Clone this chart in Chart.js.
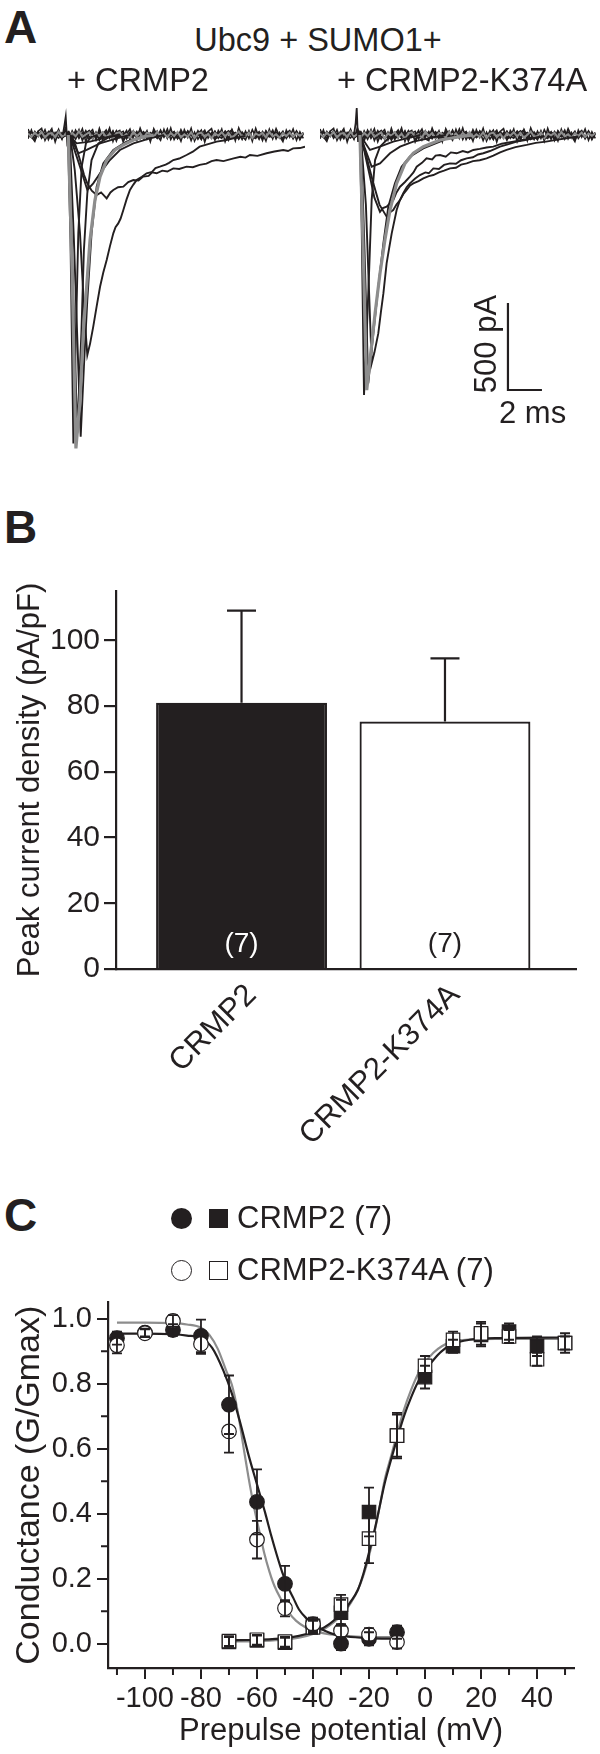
<!DOCTYPE html>
<html>
<head>
<meta charset="utf-8">
<script src="https://cdn.jsdelivr.net/npm/chart.js"></script>
<style>
  html, body { margin: 0; padding: 0; background: #fff; }
  #page { position: relative; width: 600px; height: 1754px; overflow: hidden;
          font-family: "Liberation Sans", Arial, sans-serif; color: #231f20; }
  canvas { position: absolute; }
  .txt { position: absolute; white-space: nowrap; line-height: 1; }
  .mk { position: absolute; box-sizing: border-box; }
</style>
</head>
<body>
<div id="page">
  <canvas id="traceLeft" width="277" height="365" style="left:28px;top:92px"></canvas>
  <canvas id="traceRight" width="277" height="365" style="left:320px;top:92px"></canvas>
  <canvas id="barChart" width="600" height="620" style="left:0;top:560px"></canvas>
  <canvas id="gvChart" width="600" height="474" style="left:0;top:1280px"></canvas>
</div>
<script>
const INK = "#231f20";
const GRAY = "#8d8d8d";
const FONT = '"Liberation Sans", Arial, sans-serif';
Chart.defaults.font.family = FONT;
Chart.defaults.color = INK;

// ---------- Panel A: current traces (time in ms, current in pA) ----------
const NOISE_DT = 0.2;
const N1 = [6,-14,20,-9,24,-17,5,-22,15,2,-19,27,-7,11,-24,17,-3,-15,22,9,-18,13,-26,19,1,-11,25,-13,7,-21,16,-6,20,-15,10,-23,14,3,-18,22,-10,12,-5,18,-20,8,-14,23,-2,-17,13,-25,16,6,-12,21,-8,-19,11,24,-13,4,-22,17,-7,15,-18,9,-24,20,-4,-11,19,-16,7,-21,14,2,-15,23,-9,5];
const N2 = [-11,16,-5,21,-19,9,-15,23,-7,-17,13,-3,19,-21,7,15,-13,25,-9,-19,11,-23,17,5,-15,21,-11,9,-25,13,-7,23,-17,3,19,-13,-21,15,7,-9,17,-5,12,-20,6,18,-14,-4,22,-16,10,-24,14,0,-12,20,-18,8,16,-22,4,-10,24,-14,-6,18,-20,12,2,-16,21,-8,-13,17,-3,22,-19,9,-11,15,-23,6];
const N3 = [15,-7,-17,11,3,-21,19,-13,9,23,-15,-5,17,-11,21,-19,13,1,-23,15,-9,19,-7,-17,25,-3,-15,11,21,-19,5,-11,15,-21,9,17,-13,-7,23,-15,11,-17,8,20,-12,-22,16,-6,10,-18,24,-8,-14,18,2,-20,12,-4,22,-16,6,14,-24,10,-2,18,-12,-20,16,4,-14,21,-10,7,-18,13,-5,20,-22,9,-8,14];
const N4 = [-22,28,-30,12,-8,30,-26,18,-14,32,-20,6,-28,24,-12,30,-32,10,26,-24,16,-30,4,28,-18,22,-34,14,-6,26,-28,20,-10,32,-22,8,-30,24,-16,28,-12,34,-26,10,-20,30,-8,22,-32,16,-24,6,28,-18,12,-30,26,-4,20,-28,32,-14,8,-26,22,-20,30,-10,18,-32,24,-6,28,-22,14,-30,10,26,-16,20,-26,12];
const N5 = [34,-10,-36,22,38,-30,8,36,-40,18,-24,40,-14,-34,28,-6,36,-38,12,30,-28,38,-20,-8,40,-36,16,26,-40,4,34,-22,-32,38,-12,24,-38,36,-4,-30,32,-18,40,-26,10,-36,30,-14,38,-34,6,28,-40,20,36,-24,-10,34,-38,14,30,-32,40,-8,-28,24,-36,38,-16,10,-34,32,-22,36,-6,-38,28,-12,34,-30,18,-20];
const NG = [9,-11,13,-5,17,-15,7,11,-13,19,-9,5,-17,13,-7,21,-11,3,15,-19,9,-5,17,-13,7,-21,11,15,-9,5,-15,19,-7,11,-17,13,3,-11,17,-7,9,-13,12,-6,18,-14,4,-10,16,-18,8,14,-12,6,-20,10,-4,16,-8,12,-16,2,20,-10,-6,14,-18,8,-2,12,-14,18,-8,4,-16,10,-6,14,-12,8,-4,10];

const ART_L = [[2.05,0],[2.15,60],[2.22,105],[2.3,-30],[2.38,10],[2.45,0]];
const ART_R = [[2.0,0],[2.1,70],[2.16,155],[2.24,-40],[2.32,15],[2.4,0]];

// + CRMP2
const L1 = [[2.35,0],[2.5,-600],[2.67,-1772],[2.82,-1140],[2.96,-565],[3.16,-182],[3.41,-48],[3.74,-10],[4.1,0]];
const L2 = [[2.4,0],[2.6,-700],[2.9,-1714],[3.14,-1140],[3.29,-661],[3.49,-335],[3.74,-144],[4.14,-48],[4.82,-10],[5.3,0]];
const L3 = [[2.45,0],[2.7,-600],[3.1,-1734],[3.29,-1331],[3.49,-948],[3.74,-565],[4.04,-297],[4.43,-163],[5.02,-86],[5.8,-38],[6.59,-13],[7.2,0]];
const L4 = [[2.47,0],[2.75,-200],[3.06,-565],[3.3,-1000],[3.49,-1264],[3.65,-1200],[3.84,-1101],[4.04,-985],[4.24,-872],[4.43,-790],[4.63,-718],[4.82,-640],[5.02,-565],[5.15,-530],[5.31,-508],[5.45,-480],[5.61,-431],[5.8,-370],[6.0,-316],[6.2,-285],[6.39,-259],[6.7,-240],[6.98,-220],[7.3,-212],[7.5,-190],[7.76,-182],[8.1,-170],[8.3,-160],[8.55,-144],[8.9,-135],[9.33,-115],[9.7,-96],[10.1,-67],[10.6,-52],[11.1,-38],[11.6,-30],[12.1,-19],[12.8,-5]];
const L5 = [[2.5,0],[2.8,-60],[3.06,-144],[3.3,-230],[3.49,-278],[3.75,-320],[4.04,-345],[4.3,-330],[4.63,-364],[4.85,-330],[5.02,-316],[5.3,-300],[5.61,-297],[5.9,-270],[6.2,-259],[6.5,-262],[6.78,-239],[7.1,-235],[7.3,-215],[7.57,-220],[7.9,-205],[8.2,-210],[8.55,-192],[8.9,-195],[9.33,-182],[9.7,-185],[10.1,-172],[10.5,-165],[10.8,-150],[11.1,-144],[11.5,-150],[12.1,-134],[12.5,-125],[12.8,-130],[13.06,-115],[13.5,-120],[14.04,-105],[14.5,-95],[15.02,-86],[15.3,-92],[15.6,-77],[16.0,-75],[16.3,-67]];
const L6 = [[2.45,0],[2.75,-90],[3.06,-182],[3.49,-316],[3.84,-278],[4.24,-220],[4.82,-144],[5.41,-86],[6.2,-48],[7.18,-19],[8.0,0]];
const L7 = [[2.45,0],[2.96,-105],[3.45,-86],[4.24,-48],[5.22,-19],[6.0,0]];
const L8 = [[2.4,0],[2.86,-48],[3.65,-38],[4.63,-13],[5.4,0]];
const L_GRAY = [[2.37,0],[2.6,-800],[2.82,-1801],[3.06,-1523],[3.25,-1140],[3.45,-872],[3.65,-603],[3.94,-374],[4.24,-239],[4.63,-144],[5.12,-86],[5.61,-57],[6.2,-29],[6.78,-10],[7.4,0]];

// + CRMP2-K374A
const R1 = [[2.35,0],[2.45,-500],[2.59,-1494],[2.75,-1140],[2.9,-757],[3.04,-374],[3.24,-144],[3.53,-67],[3.92,-29],[4.4,0]];
const R3 = [[2.4,0],[2.6,-600],[2.84,-1427],[3.14,-1140],[3.43,-872],[3.73,-623],[4.02,-412],[4.41,-278],[4.8,-182],[5.29,-124],[6.08,-77],[7.06,-38],[7.9,0]];
const R4 = [[2.4,0],[2.7,-400],[3.04,-1312],[3.2,-1250],[3.43,-1140],[3.58,-1020],[3.73,-910],[3.92,-738],[4.07,-650],[4.22,-565],[4.51,-431],[4.7,-375],[4.9,-335],[5.1,-300],[5.29,-278],[5.6,-250],[5.88,-230],[6.2,-215],[6.4,-220],[6.67,-192],[7.0,-195],[7.3,-172],[7.65,-163],[8.0,-165],[8.3,-145],[8.63,-134],[9.0,-128],[9.3,-112],[9.61,-105],[10.0,-92],[10.3,-80],[10.59,-67],[11.0,-55],[11.57,-38],[12.0,-30],[12.55,-19],[13.2,-6]];
const R5 = [[2.35,0],[2.6,-90],[2.94,-239],[3.2,-360],[3.53,-441],[3.7,-420],[3.92,-412],[4.1,-395],[4.31,-374],[4.5,-330],[4.71,-297],[5.0,-270],[5.29,-239],[5.5,-215],[5.69,-182],[6.0,-160],[6.27,-134],[6.6,-140],[6.8,-118],[7.06,-115],[7.4,-125],[7.7,-100],[8.04,-105],[8.4,-92],[8.7,-100],[9.02,-86],[9.4,-80],[9.8,-72],[10.2,-67],[10.7,-50],[11.37,-38],[11.9,-28],[12.55,-19],[13.2,-8]];
const R6 = [[2.4,0],[2.8,-150],[3.14,-278],[3.5,-400],[3.92,-469],[4.1,-445],[4.31,-431],[4.5,-400],[4.71,-374],[4.9,-340],[5.1,-316],[5.3,-290],[5.49,-278],[5.8,-265],[6.08,-249],[6.4,-236],[6.67,-230],[7.0,-215],[7.3,-205],[7.65,-192],[8.0,-188],[8.3,-170],[8.63,-163],[9.0,-150],[9.4,-145],[9.8,-134],[10.2,-118],[10.6,-100],[10.98,-86],[11.5,-70],[12.16,-57],[12.7,-45],[13.3,-38],[13.9,-28],[14.5,-19],[15.2,-8]];
const R7 = [[2.35,0],[3.04,-182],[3.53,-163],[4.12,-105],[4.71,-67],[5.49,-38],[6.67,-13],[7.4,0]];
const R8 = [[2.35,0],[2.94,-86],[3.53,-67],[4.31,-38],[5.1,-19],[5.9,0]];
const R_GRAY = [[2.35,0],[2.55,-700],[2.75,-1466],[2.94,-1293],[3.24,-1025],[3.53,-795],[3.82,-603],[4.12,-431],[4.51,-278],[5.0,-163],[5.49,-105],[6.08,-67],[7.06,-29],[8.24,-10],[9.0,0]];

// axis ranges and scale bar (500 pA, 2 ms)
const A_T_MAX = 16.3;
const A_Y_MIN = -1850, A_Y_MAX = 247;
const BAR_T0 = 11.06, BAR_I0 = -1465, BAR_DT = 2, BAR_DI = 500;

// ---------- Panel B: peak current density ----------
const GROUPS = ["CRMP2", "CRMP2-K374A"];
const DENSITY_MEAN = [81, 75.3];
const DENSITY_SEM = [28, 19.2];
const N_CELLS = ["(7)", "(7)"];
const BAR_POS = [1, 2];
const B_Y_TICKS = [0, 20, 40, 60, 80, 100];
const LABEL_SHIFT = 0.05;   // nudges rotated category labels right of bar centre

// ---------- Panel C: activation / inactivation ----------
const INACT_V = [-110, -100, -90, -80, -70, -60, -50, -40, -30, -20, -10];
const INACT_CRMP2 = [0.94, 0.957, 0.965, 0.947, 0.735, 0.436, 0.184, 0.055, 0.0, 0.015, 0.035];
const INACT_CRMP2_SEM = [0.02, 0.012, 0.018, 0.05, 0.09, 0.1, 0.055, 0.02, 0.02, 0.02, 0.02];
const INACT_K374A = [0.918, 0.955, 0.993, 0.922, 0.653, 0.32, 0.109, 0.06, 0.04, 0.028, 0.005];
const INACT_K374A_SEM = [0.025, 0.012, 0.018, 0.03, 0.065, 0.058, 0.025, 0.02, 0.02, 0.02, 0.02];
const ACT_V = [-70, -60, -50, -40, -30, -20, -10, 0, 10, 20, 30, 40, 50];
const ACT_CRMP2 = [0.005, 0.01, 0.003, 0.055, 0.095, 0.405, 0.64, 0.82, 0.915, 0.95, 0.96, 0.915, 0.925];
const ACT_CRMP2_SEM = [0.015, 0.015, 0.015, 0.02, 0.04, 0.075, 0.065, 0.035, 0.02, 0.035, 0.025, 0.03, 0.02];
const ACT_K374A = [0.008, 0.012, 0.006, 0.05, 0.12, 0.323, 0.64, 0.855, 0.935, 0.955, 0.945, 0.875, 0.925];
const ACT_K374A_SEM = [0.015, 0.015, 0.015, 0.02, 0.03, 0.075, 0.07, 0.03, 0.025, 0.035, 0.02, 0.02, 0.03];

const FIT_INACT_CRMP2 = [[-110,0.954],[-100,0.954],[-90,0.952],[-85,0.948],[-80,0.94],[-76,0.91],[-72,0.84],[-69,0.77],[-66,0.68],[-63,0.58],[-60,0.49],[-57,0.4],[-55,0.335],[-53,0.275],[-51,0.22],[-49,0.175],[-47,0.14],[-45,0.105],[-42,0.075],[-40,0.06],[-37,0.045],[-33,0.03],[-28,0.022],[-20,0.017],[-10,0.015]];
const FIT_INACT_K374A = [[-110,0.988],[-100,0.988],[-90,0.986],[-85,0.982],[-80,0.972],[-77,0.95],[-74,0.907],[-71,0.84],[-69,0.797],[-67,0.72],[-64.5,0.588],[-63,0.51],[-61,0.418],[-59,0.34],[-57.4,0.278],[-55.5,0.22],[-53.8,0.178],[-51,0.13],[-49,0.1],[-46,0.07],[-43,0.052],[-40,0.04],[-35,0.03],[-28,0.024],[-20,0.02],[-10,0.02]];
const FIT_ACT_CRMP2 = [[-70,0.01],[-60,0.012],[-50,0.017],[-45,0.024],[-40,0.036],[-36,0.05],[-32,0.075],[-29,0.1],[-26.5,0.13],[-24,0.165],[-22,0.215],[-20,0.28],[-18,0.35],[-16,0.43],[-14.5,0.49],[-12,0.57],[-10,0.63],[-7.5,0.7],[-5,0.757],[-2.5,0.805],[0,0.84],[3,0.873],[6,0.9],[9,0.918],[12,0.928],[16,0.935],[25,0.94],[50,0.942]];
const FIT_ACT_K374A = [[-70,0.006],[-60,0.008],[-50,0.012],[-45,0.018],[-40,0.03],[-36,0.045],[-32,0.07],[-29,0.095],[-26.5,0.125],[-24,0.165],[-22,0.21],[-20,0.27],[-18,0.345],[-16,0.43],[-14.5,0.5],[-12,0.58],[-10,0.645],[-7.5,0.72],[-5,0.78],[-2.5,0.83],[0,0.865],[3,0.895],[6,0.915],[9,0.927],[12,0.933],[16,0.936],[25,0.938],[50,0.938]];

const C_X_TICKS = [-100, -80, -60, -40, -20, 0, 20, 40];
const C_X_MINOR = [-110, -90, -70, -50, -30, -10, 10, 30, 50];
const C_Y_TICKS = [0, 0.2, 0.4, 0.6, 0.8, 1.0];
const C_Y_MINOR = [0.1, 0.3, 0.5, 0.7, 0.9];

// ---------- helpers ----------
const pairs = arr => arr.map(p => ({ x: p[0], y: p[1] }));
const noise = arr => arr.map((v, i) => ({ x: i * NOISE_DT, y: v }));

function traceSet(data, color, width, order) {
  return { data, borderColor: color, borderWidth: width, pointRadius: 0, tension: 0, fill: false, order };
}

function drawTraces(id, traces, gray, artifact, extra) {
  const ds = [];
  [N1, N2, N3, N4, N5].forEach(n => ds.push(traceSet(noise(n), INK, 1.6, 3)));
  ds.push(traceSet(noise(NG), GRAY, 2, 2));
  traces.forEach(t => ds.push(traceSet(pairs(t), INK, 1.9, 1)));
  ds.push(traceSet(pairs(artifact), INK, 1.8, 1));
  ds.push(traceSet(pairs(gray), GRAY, 3.2, 0));
  new Chart(document.getElementById(id), {
    type: "line",
    data: { datasets: ds },
    options: {
      responsive: false, animation: false, devicePixelRatio: 1,
      layout: { padding: 0 },
      plugins: { legend: { display: false }, tooltip: { enabled: false } },
      scales: {
        x: { type: "linear", display: false, min: 0, max: A_T_MAX },
        y: { display: false, min: A_Y_MIN, max: A_Y_MAX }
      }
    },
    plugins: extra || []
  });
}

const scaleBar = {
  id: "scaleBar",
  afterDraw(chart) {
    const { ctx, scales: { x, y } } = chart;
    const x0 = x.getPixelForValue(BAR_T0), x1 = x.getPixelForValue(BAR_T0 + BAR_DT);
    const y0 = y.getPixelForValue(BAR_I0), y1 = y.getPixelForValue(BAR_I0 + BAR_DI);
    ctx.save();
    ctx.strokeStyle = INK;
    ctx.lineWidth = 2.2;
    ctx.beginPath();
    ctx.moveTo(x0, y1); ctx.lineTo(x0, y0); ctx.lineTo(x1, y0);
    ctx.stroke();
    ctx.restore();
  }
};

drawTraces("traceLeft", [L1, L2, L3, L4, L5, L6, L7, L8], L_GRAY, ART_L);
drawTraces("traceRight", [R1, R3, R4, R5, R6, R7, R8], R_GRAY, ART_R, [scaleBar]);

// ---------- Panel B ----------
const barExtras = {
  id: "barExtras",
  afterDatasetsDraw(chart) {
    const { ctx, scales: { x, y } } = chart;
    ctx.save();
    ctx.strokeStyle = INK;
    ctx.lineWidth = 2.2;
    BAR_POS.forEach((p, i) => {
      const px = x.getPixelForValue(p);
      const yTop = y.getPixelForValue(DENSITY_MEAN[i] + DENSITY_SEM[i]);
      const yMean = y.getPixelForValue(DENSITY_MEAN[i]);
      ctx.beginPath();
      ctx.moveTo(px, yMean); ctx.lineTo(px, yTop);
      ctx.moveTo(px - 14.5, yTop); ctx.lineTo(px + 14.5, yTop);
      ctx.stroke();
      ctx.fillStyle = i === 0 ? "#ffffff" : INK;
      ctx.font = "28px " + FONT;
      ctx.textAlign = "center";
      ctx.textBaseline = "middle";
      ctx.fillText(N_CELLS[i], px, y.getPixelForValue(0) - 25);
    });
    ctx.restore();
  }
};

new Chart(document.getElementById("barChart"), {
  type: "bar",
  data: {
    datasets: [{
      data: BAR_POS.map((p, i) => ({ x: p, y: DENSITY_MEAN[i] })),
      backgroundColor: [INK, "#ffffff"],
      borderColor: INK,
      borderWidth: 2.2,
      barPercentage: 0.84,
      categoryPercentage: 1
    }]
  },
  options: {
    responsive: false, animation: false, devicePixelRatio: 1,
    layout: { padding: { top: 31, right: 24, left: 0, bottom: 0 } },
    plugins: { legend: { display: false }, tooltip: { enabled: false } },
    scales: {
      x: {
        type: "linear", offset: false, min: 0.383, max: 2.644,
        afterFit(s) { s.height = 211; },
        afterBuildTicks(s) { s.ticks = BAR_POS.map(v => ({ value: v + LABEL_SHIFT })); },
        grid: { display: false, drawTicks: false },
        border: { color: INK, width: 2.2 },
        ticks: {
          autoSkip: false, minRotation: 45, maxRotation: 45, padding: 8,
          font: { size: 31 }, color: INK,
          callback: (v, i) => GROUPS[i]
        }
      },
      y: {
        min: 0, max: 115,
        afterFit(s) { s.width = 116; },
        afterBuildTicks(s) { s.ticks = B_Y_TICKS.map(v => ({ value: v })); },
        grid: { drawOnChartArea: false, tickLength: 12, color: INK, lineWidth: 2.2 },
        border: { color: INK, width: 2.2 },
        ticks: { padding: 4, font: { size: 30 }, color: INK },
        title: {
          display: true, text: "Peak current density (pA/pF)",
          font: { size: 31 }, color: INK, padding: { top: 12, bottom: 0 }
        }
      }
    }
  },
  plugins: [barExtras]
});

// ---------- Panel C ----------
const ERROR_SETS = [
  [INACT_V, INACT_CRMP2, INACT_CRMP2_SEM],
  [ACT_V, ACT_CRMP2, ACT_CRMP2_SEM],
  [INACT_V, INACT_K374A, INACT_K374A_SEM],
  [ACT_V, ACT_K374A, ACT_K374A_SEM]
];

const gvExtras = {
  id: "gvExtras",
  afterDatasetsDraw(chart) {
    const { ctx, scales: { x, y } } = chart;
    ctx.save();
    ctx.strokeStyle = INK;
    ctx.lineWidth = 1.8;
    ERROR_SETS.forEach(([vs, means, sems]) => {
      vs.forEach((v, i) => {
        const px = x.getPixelForValue(v);
        const top = y.getPixelForValue(means[i] + sems[i]);
        const bot = y.getPixelForValue(means[i] - sems[i]);
        ctx.beginPath();
        ctx.moveTo(px, top); ctx.lineTo(px, bot);
        ctx.moveTo(px - 5, top); ctx.lineTo(px + 5, top);
        ctx.moveTo(px - 5, bot); ctx.lineTo(px + 5, bot);
        ctx.stroke();
      });
    });
    ctx.restore();
  },
  afterDraw(chart) {
    const { ctx, scales: { x, y } } = chart;
    ctx.save();
    ctx.strokeStyle = INK;
    ctx.lineWidth = 2;
    ctx.beginPath();
    C_X_MINOR.forEach(v => {
      const px = x.getPixelForValue(v);
      ctx.moveTo(px, x.top); ctx.lineTo(px, x.top + 7);
    });
    C_Y_MINOR.forEach(v => {
      const py = y.getPixelForValue(v);
      ctx.moveTo(y.right, py); ctx.lineTo(y.right - 7, py);
    });
    ctx.stroke();
    ctx.restore();
  }
};

function fitSet(pts, color, order) {
  return { data: pairs(pts), showLine: true, borderColor: color, borderWidth: 2.2,
           pointRadius: 0, tension: 0.3, cubicInterpolationMode: "monotone", order };
}
function markerSet(vs, ms, style, filled, order) {
  return {
    data: vs.map((v, i) => ({ x: v, y: ms[i] })),
    showLine: false, pointStyle: style,
    pointRadius: style === "rect" ? 9.5 : 7.3,
    pointBackgroundColor: filled ? INK : "#ffffff",
    pointBorderColor: INK, pointBorderWidth: 1.2, order
  };
}

new Chart(document.getElementById("gvChart"), {
  type: "scatter",
  data: {
    datasets: [
      markerSet(INACT_V, INACT_K374A, "circle", false, 1),
      markerSet(ACT_V, ACT_K374A, "rect", false, 1),
      markerSet(INACT_V, INACT_CRMP2, "circle", true, 2),
      markerSet(ACT_V, ACT_CRMP2, "rect", true, 2),
      fitSet(FIT_INACT_CRMP2, INK, 3),
      fitSet(FIT_ACT_CRMP2, INK, 3),
      fitSet(FIT_INACT_K374A, GRAY, 4),
      fitSet(FIT_ACT_K374A, GRAY, 4)
    ]
  },
  options: {
    responsive: false, animation: false, devicePixelRatio: 1,
    layout: { padding: { top: 12, right: 26, left: 0, bottom: 0 } },
    plugins: { legend: { display: false }, tooltip: { enabled: false } },
    scales: {
      x: {
        type: "linear", min: -113.2, max: 53.2,
        afterFit(s) { s.height = 86; },
        afterBuildTicks(s) { s.ticks = C_X_TICKS.map(v => ({ value: v })); },
        grid: { drawOnChartArea: false, tickLength: 11, color: INK, lineWidth: 2 },
        border: { color: INK, width: 2.2 },
        ticks: { padding: 3, font: { size: 29 }, color: INK },
        title: { display: true, text: "Prepulse potential (mV)", font: { size: 31 }, color: INK,
                 padding: { top: 0, bottom: 4 } }
      },
      y: {
        min: -0.075, max: 1.05,
        afterFit(s) { s.width = 108; },
        afterBuildTicks(s) { s.ticks = C_Y_TICKS.map(v => ({ value: v })); },
        grid: { drawOnChartArea: false, tickLength: 11, color: INK, lineWidth: 2 },
        border: { color: INK, width: 2.2 },
        ticks: { padding: 5, font: { size: 29 }, color: INK, callback: v => v.toFixed(1) },
        title: { display: true, text: "Conductance (G/Gmax)", font: { size: 34 }, color: INK,
                 padding: { top: 9, bottom: 0 } }
      }
    }
  },
  plugins: [gvExtras]
});

// ---------- text ----------
const page = document.getElementById("page");
function addText(str, x, baseline, size, opts = {}) {
  const d = document.createElement("div");
  d.className = "txt";
  d.textContent = str;
  d.style.fontSize = size + "px";
  if (opts.bold) d.style.fontWeight = "bold";
  d.style.left = x + "px";
  d.style.top = (baseline - 0.8465 * size) + "px";
  if (opts.center) d.style.transform = "translateX(-50%)";
  page.appendChild(d);
  return d;
}
addText("A", 4, 43, 46, { bold: true });
addText("Ubc9 + SUMO1+", 318, 52, 32.5, { center: true });
addText("+ CRMP2", 138, 92, 32.5, { center: true });
addText("+ CRMP2-K374A", 462, 92, 32.5, { center: true });
addText("2 ms", 499, 423, 31);
const pa = addText("500 pA", 485, 344, 31);
pa.style.top = "344px";
pa.style.transform = "translate(-50%, -50%) rotate(-90deg)";
addText("B", 4, 543, 46, { bold: true });
addText("C", 4, 1231, 46, { bold: true });

// legend for panel C
function addMarker(cx, cy, size, round, filled) {
  const m = document.createElement("div");
  m.className = "mk";
  m.style.left = (cx - size / 2) + "px";
  m.style.top = (cy - size / 2) + "px";
  m.style.width = size + "px";
  m.style.height = size + "px";
  m.style.background = filled ? INK : "#fff";
  m.style.border = filled ? "none" : "1px solid " + INK;
  if (round) m.style.borderRadius = "50%";
  page.appendChild(m);
}
addMarker(181, 1218, 21, true, true);
addMarker(218, 1218, 19, false, true);
addText("CRMP2 (7)", 237, 1228, 31);
addMarker(181, 1270, 21, true, false);
addMarker(218, 1270, 19, false, false);
addText("CRMP2-K374A (7)", 237, 1280, 31);
</script>
</body>
</html>
